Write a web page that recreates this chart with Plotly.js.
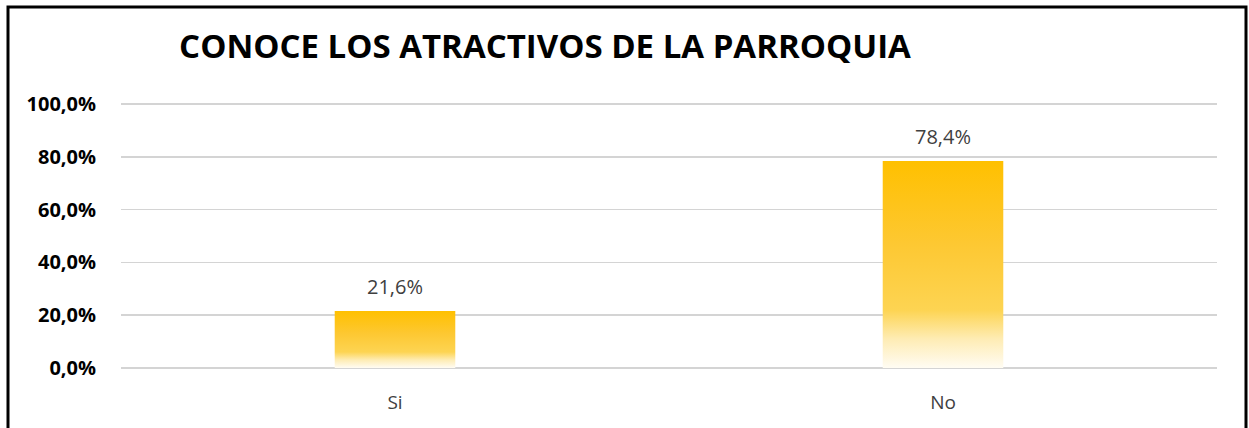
<!DOCTYPE html>
<html>
<head>
<meta charset="utf-8">
<script src="https://cdn.plot.ly/plotly-3.0.1.min.js"></script>
<style>
  html, body { margin: 0; padding: 0; background: #fff; }
  #chart { width: 1249px; height: 428px; }
</style>
</head>
<body>
<div id="chart"></div>
<script>
// values
var categories = ['Si', 'No'];
var shares = [0.216, 0.784];
var yTicks = [0, 0.2, 0.4, 0.6, 0.8, 1.0];

var barWidth = 0.22;
var W = 1249, H = 428;
var margin = {l: 121, r: 32, t: 103, b: 59, pad: 0};
var yPad = 0.004;

// each bar is a filled outline so it can take a vertical gradient
var data = categories.map(function (c, i) {
    var x0 = i - barWidth / 2, x1 = i + barWidth / 2;
    return {
        x: [x0, x1, x1, x0, x0],
        y: [0, 0, shares[i], shares[i], 0],
        mode: 'lines',
        line: {width: 0},
        fill: 'toself',
        fillgradient: {
            type: 'vertical',
            colorscale: [
                [0, '#FFFCF3'],
                [0.14, '#FEECB4'],
                [0.28, '#FDD452'],
                [0.6, '#FDC832'],
                [1, '#FFC000']
            ]
        },
        hoverinfo: 'skip',
        showlegend: false
    };
});

// data labels above the bars
var labels = categories.map(function (c, i) {
    return {
        x: i,
        y: shares[i],
        xref: 'x', yref: 'y',
        text: (shares[i] * 100).toFixed(1).replace('.', ',') + '%',
        showarrow: false,
        yanchor: 'bottom',
        yshift: 9,
        font: {family: 'Open Sans', size: 20, color: '#404040'}
    };
});

var pw = W - margin.l - margin.r, ph = H - margin.t - margin.b;

var layout = {
    width: W,
    height: H,
    margin: margin,
    paper_bgcolor: '#ffffff',
    plot_bgcolor: '#ffffff',
    separators: ',.',
    font: {family: 'Open Sans', color: '#404040'},
    title: {
        text: '<b>CONOCE LOS ATRACTIVOS DE LA PARROQUIA</b>',
        font: {family: 'Open Sans', size: 33, color: '#000000'},
        x: 545 / W,
        xanchor: 'center',
        y: 1 - 46 / H,
        yanchor: 'middle'
    },
    xaxis: {
        range: [-0.5, 1.5],
        tickmode: 'array',
        tickvals: categories.map(function (c, i) { return i; }),
        ticktext: categories,
        tickfont: {family: 'Open Sans', size: 19, color: '#404040'},
        showgrid: false,
        zeroline: false,
        showline: false,
        ticks: 'outside',
        ticklen: 16,
        tickcolor: 'rgba(0,0,0,0)',
        fixedrange: true
    },
    yaxis: {
        range: [-yPad, 1 + yPad],
        tickmode: 'array',
        tickvals: yTicks,
        tickformat: '.1%',
        tickfont: {family: 'Open Sans', size: 20, color: '#000000', weight: 'bold'},
        showgrid: true,
        gridcolor: '#D4D4D4',
        gridwidth: 1.5,
        zeroline: false,
        showline: false,
        ticks: 'outside',
        ticklen: 20,
        tickcolor: 'rgba(0,0,0,0)',
        fixedrange: true
    },
    annotations: labels,
    shapes: [{
        type: 'rect',
        xref: 'paper', yref: 'paper',
        x0: (8 - margin.l) / pw,
        x1: (1246 - margin.l) / pw,
        y0: -(H + 20 - margin.t - ph) / ph,
        y1: (margin.t - 7 + ph) / ph,
        line: {color: '#000000', width: 3},
        layer: 'above'
    }]
};

Plotly.newPlot('chart', data, layout, {displayModeBar: false, staticPlot: true});
</script>
</body>
</html>
